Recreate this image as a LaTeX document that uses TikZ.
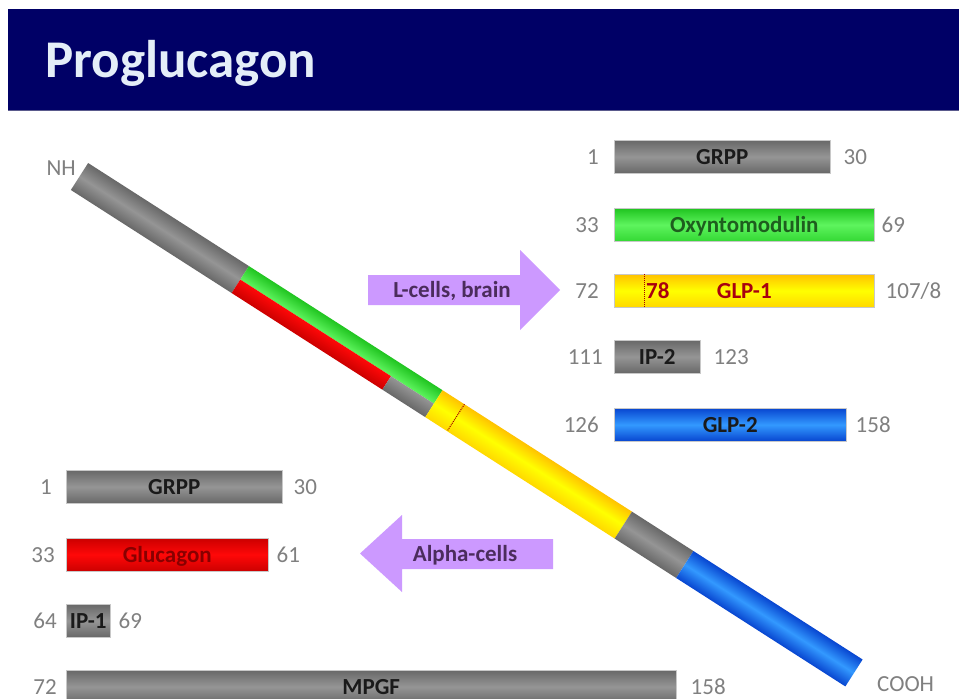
\documentclass[tikz,border=0pt]{standalone}
\usepackage{fontspec}
\setmainfont{Carlito}
\definecolor{navy}{HTML}{000066}
\definecolor{navyline}{HTML}{5A5A8C}
\definecolor{titlewhite}{HTML}{E4EEF8}
\definecolor{numgray}{HTML}{808080}
\definecolor{barline}{HTML}{C8C8C8}
\definecolor{grayD}{HTML}{686868}
\definecolor{grayL}{HTML}{959595}
\definecolor{greenD}{HTML}{20C420}
\definecolor{greenL}{HTML}{5EF45E}
\definecolor{greenB}{HTML}{34D834}
\definecolor{yelD}{HTML}{FFC200}
\definecolor{yelL}{HTML}{FFFF00}
\definecolor{yelB}{HTML}{FFD800}
\definecolor{blueD}{HTML}{0846D0}
\definecolor{blueL}{HTML}{3399FF}
\definecolor{redD}{HTML}{CC0000}
\definecolor{redL}{HTML}{FF0808}
\definecolor{arrowpurple}{HTML}{CC99FF}
\definecolor{arrowtxt}{HTML}{4B2C5C}
\definecolor{txtdark}{HTML}{1A1A1A}
\definecolor{txtgreen}{HTML}{1E5E1E}
\definecolor{txtred}{HTML}{A80010}
\definecolor{txtdred}{HTML}{880000}
\definecolor{dotred}{HTML}{A00000}
\begin{document}
\begin{tikzpicture}[x=1pt,y=-1pt,
  num/.style={font=\fontsize{23}{23}\selectfont, text=numgray, inner sep=0pt, text height=15pt, text depth=0pt},
  lbl/.style={font=\fontsize{23}{23}\selectfont\bfseries, inner sep=0pt, text height=15pt, text depth=0pt},
  bar/.style={lbl, draw=barline, line width=0.5pt, anchor=north west, minimum height=33pt},
  graybar/.style={bar, top color=grayD, bottom color=grayD, middle color=grayL, text=txtdark},
  greenbar/.style={bar, top color=greenD, bottom color=greenB, middle color=greenL, text=txtgreen},
  yelbar/.style={bar, top color=yelD, bottom color=yelB, middle color=yelL, text=txtred},
  bluebar/.style={bar, top color=blueD, bottom color=blueD, middle color=blueL, text=txtdark},
  redbar/.style={bar, top color=redD, bottom color=redD, middle color=redL, text=txtdred},
  dotline/.style={draw=dotred, densely dotted, line width=1pt},
  arrtxt/.style={font=\fontsize{23}{23}\selectfont\bfseries, text=arrowtxt, inner sep=0pt, text height=15pt, text depth=0pt}
]
\useasboundingbox (0,0) rectangle (959,699);
\clip (0,0) rectangle (959,699);
\fill[white] (0,0) rectangle (959,699);

% header
\fill[navy] (8,9) rectangle (959,110);
\draw[navyline, line width=1pt] (8,110) -- (959,110);
\node[anchor=base west, inner sep=0pt, text=titlewhite, font=\fontsize{53}{53}\selectfont\bfseries] (title) at (45,77) {Proglucagon};

% diagonal proglucagon bar
\begin{scope}[transform canvas={shift={(79.5,176.5)}, rotate=-32.66}]
  \shade[top color=grayD, bottom color=grayD, middle color=grayL] (0,-16) rectangle (191,16);
  \shade[top color=greenD, bottom color=greenL] (191,-16) rectangle (421,0);
  \shade[top color=redL, bottom color=redD] (191,0) rectangle (370,16);
  \shade[top color=grayL, bottom color=grayD] (370,0) rectangle (421,16);
  \shade[top color=yelD, bottom color=yelB, middle color=yelL] (421,-16) rectangle (646,16);
  \shade[top color=grayD, bottom color=grayD, middle color=grayL] (646,-16) rectangle (719,16);
  \shade[top color=blueD, bottom color=blueD, middle color=blueL] (719,-16) rectangle (920,16);
  \draw[dotline] (447,-16) -- (447,16);
\end{scope}
\node[num, anchor=east] (nh) at (76,168) {NH};
\node[num, anchor=west] (cooh) at (877,684) {COOH};

% arrows
\fill[arrowpurple] (368,275) -- (520,275) -- (520,250) -- (560,290) -- (520,330) -- (520,305) -- (368,305) -- cycle;
\node[arrtxt] (lcells) at (452,290) {L-cells, brain};
\fill[arrowpurple] (553,539) -- (402,539) -- (402,515) -- (360,553.5) -- (402,592) -- (402,569) -- (553,569) -- cycle;
\node[arrtxt] (alpha) at (465,554) {Alpha-cells};

% right column (L-cells, brain)
\node[graybar, minimum width=216pt] (rgrpp) at (614,140) {GRPP};
\node[greenbar, minimum width=260pt] (oxy) at (614,208) {Oxyntomodulin};
\node[yelbar, minimum width=260pt] (glp1) at (614,274) {GLP-1};
\node[graybar, minimum width=86pt] (ip2) at (614,340) {IP-2};
\node[bluebar, minimum width=232pt] (glp2) at (614,408) {GLP-2};
\draw[dotline] ([xshift=30pt]glp1.north west) -- ([xshift=30pt]glp1.south west);
\node[lbl, text=txtred, anchor=west] (n78) at ([xshift=32pt]glp1.west) {78};

\node[num, anchor=east] (rgrppa) at ([xshift=-15pt]rgrpp.west) {1};
\node[num, anchor=west] (rgrppb) at ([xshift=13pt]rgrpp.east) {30};
\node[num, anchor=east] (oxya) at ([xshift=-15pt]oxy.west) {33};
\node[num, anchor=west] (oxyb) at ([xshift=7pt]oxy.east) {69};
\node[num, anchor=east] (glp1a) at ([xshift=-15pt]glp1.west) {72};
\node[num, anchor=west] (glp1b) at ([xshift=11pt]glp1.east) {107/8};
\node[num, anchor=east] (ip2a) at ([xshift=-11pt]ip2.west) {111};
\node[num, anchor=west] (ip2b) at ([xshift=13pt]ip2.east) {123};
\node[num, anchor=east] (glp2a) at ([xshift=-15pt]glp2.west) {126};
\node[num, anchor=west] (glp2b) at ([xshift=9pt]glp2.east) {158};

% left column (Alpha-cells)
\node[graybar, minimum width=216pt] (lgrpp) at (66,470) {GRPP};
\node[redbar, minimum width=202pt] (gluc) at (66,538) {Glucagon};
\node[graybar, minimum width=44pt] (ip1) at (66,604) {IP-1};
\node[graybar, minimum width=610pt] (mpgf) at (66,670) {MPGF};

\node[num, anchor=east] (lgrppa) at ([xshift=-14pt]lgrpp.west) {1};
\node[num, anchor=west] (lgrppb) at ([xshift=11pt]lgrpp.east) {30};
\node[num, anchor=east] (gluca) at ([xshift=-11pt]gluc.west) {33};
\node[num, anchor=west] (glucb) at ([xshift=8pt]gluc.east) {61};
\node[num, anchor=east] (ip1a) at ([xshift=-9pt]ip1.west) {64};
\node[num, anchor=west] (ip1b) at ([xshift=8pt]ip1.east) {69};
\node[num, anchor=east] (mpgfa) at ([xshift=-9pt]mpgf.west) {72};
\node[num, anchor=west] (mpgfb) at ([xshift=14pt]mpgf.east) {158};
\end{tikzpicture}
\end{document}
